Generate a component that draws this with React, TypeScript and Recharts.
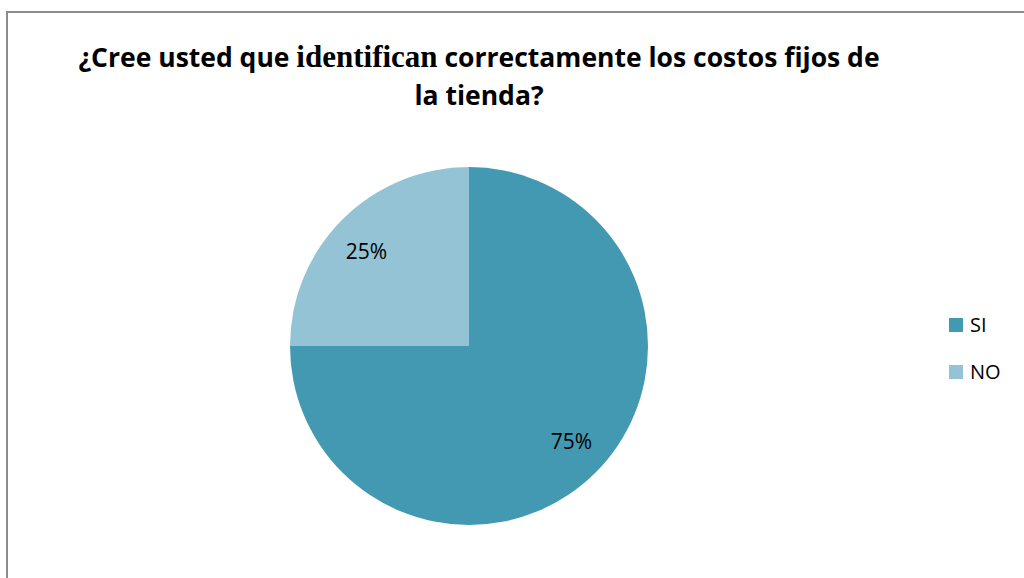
import { PieChart, Pie, Cell, Legend } from "recharts";

const answers = ["SI", "NO"];
const shares = [75, 25];
const colors = ["#4399B1", "#93C3D4"];

const data = answers.map((name, i) => ({ name, value: shares[i] }));

const RAD = Math.PI / 180;

const renderLabel = (props: any) => {
  const { cx, cy, midAngle, outerRadius, percent } = props;
  // Excel puts these a bit wider than tall
  const x = cx + outerRadius * 0.81 * Math.cos(-midAngle * RAD);
  const y = cy + outerRadius * 0.75 * Math.sin(-midAngle * RAD);
  return (
    <text
      x={x}
      y={y}
      fill="#000"
      textAnchor="middle"
      dominantBaseline="central"
      fontFamily="'Open Sans', sans-serif"
      fontSize={21}
    >
      {`${Math.round(percent * 100)}%`}
    </text>
  );
};

const LegendList = (props: any) => {
  const items = [...(props.payload || [])].sort(
    (a: any, b: any) => answers.indexOf(a.value) - answers.indexOf(b.value)
  );
  return (
    <div>
      {items.map((p: any) => (
        <div
          key={p.value}
          style={{ display: "flex", alignItems: "center", height: 47, fontFamily: "'Open Sans', sans-serif", fontSize: 20, color: "#000" }}
        >
          <span style={{ width: 14, height: 14, background: p.color, marginRight: 7, display: "inline-block" }} />
          {p.value}
        </div>
      ))}
    </div>
  );
};

export default function App() {
  return (
    <div style={{ position: "absolute", left: 0, top: 0, width: 1024, height: 578, background: "#fff", overflow: "hidden" }}>
      <div
        style={{
          position: "absolute",
          left: 6,
          top: 11,
          width: 1100,
          height: 700,
          borderLeft: "2px solid #8c8c8c",
          borderTop: "2px solid #8c8c8c",
        }}
      />
      <div
        style={{
          position: "absolute",
          left: 0,
          top: 38,
          width: 958,
          textAlign: "center",
          fontFamily: "'Open Sans', sans-serif",
          fontWeight: 700,
          fontSize: 26.5,
          lineHeight: "38px",
          color: "#000",
        }}
      >
        ¿Cree usted que{" "}
        <span style={{ fontFamily: "'Liberation Serif', serif", fontSize: 31 }}>identifican</span> correctamente los costos fijos de
        <br />
        la tienda?
      </div>
      <div style={{ position: "absolute", left: 0, top: 0 }}>
        <PieChart width={1024} height={578} margin={{ top: 0, right: 0, bottom: 0, left: 0 }}>
          <Pie
            data={data}
            dataKey="value"
            nameKey="name"
            cx={469}
            cy={346}
            outerRadius={179}
            startAngle={90}
            endAngle={-270}
            stroke="none"
            label={renderLabel}
            labelLine={false}
            isAnimationActive={false}
          >
            {data.map((d, i) => (
              <Cell key={d.name} fill={colors[i]} />
            ))}
          </Pie>
          <Legend
            layout="vertical"
            content={<LegendList />}
            wrapperStyle={{ position: "absolute", left: 949, top: 301, width: 70 }}
          />
        </PieChart>
      </div>
    </div>
  );
}
